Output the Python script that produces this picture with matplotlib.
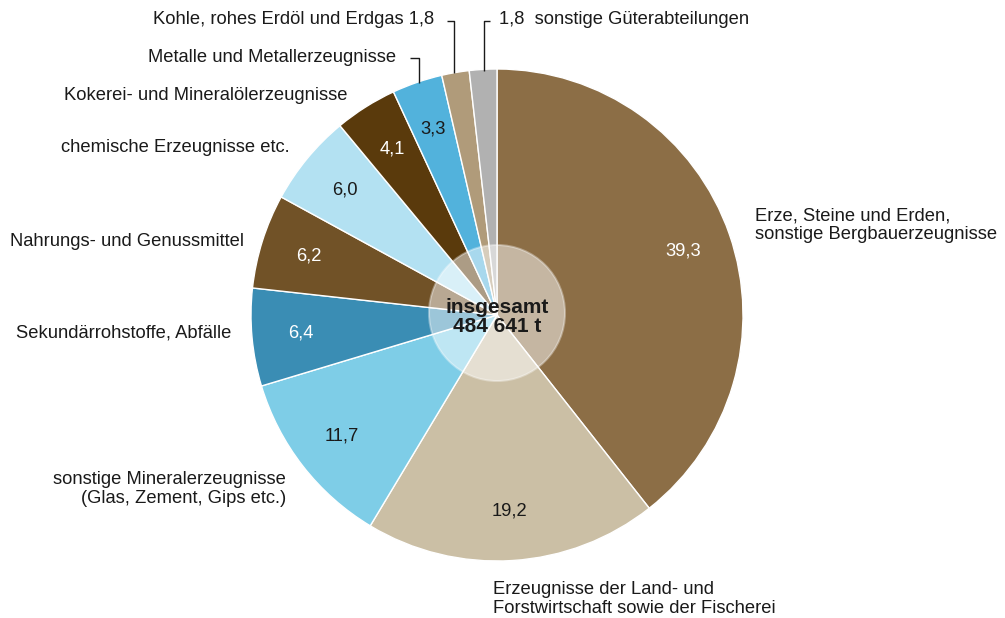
import matplotlib
matplotlib.use("Agg")
import matplotlib.pyplot as plt
from matplotlib.patches import Circle

plt.rcParams['font.family'] = ['Liberation Sans', 'DejaVu Sans']

# data (percent shares, clockwise from 12 o'clock)
categories = [
    "Erze, Steine und Erden,\nsonstige Bergbauerzeugnisse",
    "Erzeugnisse der Land- und\nForstwirtschaft sowie der Fischerei",
    "sonstige Mineralerzeugnisse\n(Glas, Zement, Gips etc.)",
    "Sekundärrohstoffe, Abfälle",
    "Nahrungs- und Genussmittel",
    "chemische Erzeugnisse etc.",
    "Kokerei- und Mineralölerzeugnisse",
    "Metalle und Metallerzeugnisse",
    "Kohle, rohes Erdöl und Erdgas",
    "sonstige Güterabteilungen",
]
shares = [39.3, 19.2, 11.7, 6.4, 6.2, 6.0, 4.1, 3.3, 1.8, 1.8]
total_label = "insgesamt\n484 641 t"

colors = ["#8C6E46", "#CBBFA5", "#7ECDE7", "#3A8DB4", "#715227",
          "#B3E1F2", "#5A3A0C", "#52B2DC", "#B09B7A", "#B1B1B1"]
pct_colors = ["white", "#1a1a1a", "#1a1a1a", "white", "white",
              "#1a1a1a", "white", "#1a1a1a", None, None]

W, H = 1005, 618
fig = plt.figure(figsize=(W / 100, H / 100), dpi=100)
ax = fig.add_axes([0, 0, 1, 1])
ax.set_xlim(0, W)
ax.set_ylim(0, H)
ax.axis("off")

def py(y):
    # pixel row (from top) -> data y
    return H - y

cx, cy, R = 497, py(315), 246
FS = 13.2
TXT = "#1a1a1a"

wedges, _ = ax.pie(shares, center=(cx, cy), radius=R, startangle=90,
                   counterclock=False, colors=colors,
                   wedgeprops=dict(edgecolor="white", linewidth=1.0),
                   frame=False)
ax.set_xlim(0, W)
ax.set_ylim(0, H)
ax.set_aspect("equal")

import numpy as np
tot = sum(shares)
cum = 0.0
for v, c in zip(shares, pct_colors):
    mid = (cum + v / 2) / tot * 2 * np.pi
    cum += v
    if c is None:
        continue
    r = 0.8 * R
    x = cx + r * np.sin(mid)
    y = cy + r * np.cos(mid)
    ax.text(x, y, f"{v:.1f}".replace(".", ","), color=c, fontsize=FS,
            ha="center", va="center")

# centre disc
ax.add_patch(Circle((cx, py(313)), 68, facecolor="white", alpha=0.5,
                    edgecolor="none", zorder=5))
ax.add_patch(Circle((cx, py(313)), 68, facecolor="none", alpha=0.35,
                    edgecolor="white", lw=1.5, zorder=5))
ax.text(cx, py(317), total_label, ha="center", va="center", fontsize=15,
        fontweight="bold", color="#1a1a1a", linespacing=1.0, zorder=6)

# outer labels
ax.text(755, py(225), categories[0], ha="left", va="center", fontsize=FS,
        color=TXT, linespacing=1.15)
ax.text(493, py(599), categories[1], ha="left", va="center", fontsize=FS,
        color=TXT, linespacing=1.15)
ax.text(286, py(489), categories[2], ha="right", va="center", fontsize=FS,
        color=TXT, linespacing=1.15, multialignment="right")
ax.text(16, py(333), categories[3], ha="left", va="center", fontsize=FS, color=TXT)
ax.text(10, py(242), categories[4], ha="left", va="center", fontsize=FS, color=TXT)
ax.text(61, py(147), categories[5], ha="left", va="center", fontsize=FS, color=TXT)
ax.text(64, py(95), categories[6], ha="left", va="center", fontsize=FS, color=TXT)
ax.text(148, py(58), categories[7], ha="left", va="center", fontsize=FS, color=TXT)
ax.text(153, py(20), f"{categories[8]} {shares[8]:.1f}".replace(".", ","),
        ha="left", va="center", fontsize=FS, color=TXT)
ax.text(499, py(20), f"{shares[9]:.1f}".replace(".", ",") + "  " + categories[9],
        ha="left", va="center", fontsize=FS, color=TXT)

# leader lines
lk = dict(color="#1a1a1a", lw=1.0, solid_capstyle="butt")
ax.plot([410, 419, 419], [py(58), py(58), py(83)], **lk)
ax.plot([447, 454, 454], [py(21), py(21), py(73)], **lk)
ax.plot([490, 484, 484], [py(21), py(21), py(71)], **lk)

fig.savefig("out.png", dpi=100, facecolor="white")
